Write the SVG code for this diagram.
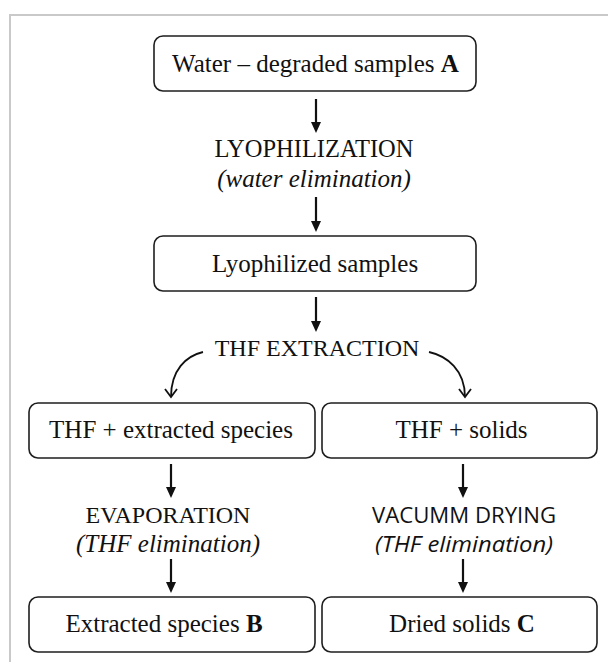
<svg xmlns="http://www.w3.org/2000/svg" width="608" height="662" viewBox="0 0 608 662">
<defs>
<style>
.frame{fill:none;stroke:#c9c9c9;stroke-width:2}
.box{fill:#fff;stroke:#1e1e1e;stroke-width:1.6}
.t{font-family:"Liberation Serif","Times New Roman",serif;font-size:25px;fill:#111;text-anchor:middle}
.cap{font-size:24.5px}
.it{font-style:italic}
.sans{font-family:"Open Sans","Liberation Sans",sans-serif;font-size:21px}
.arr{fill:none;stroke:#111;stroke-width:2.2;marker-end:url(#ah)}
.carr{fill:none;stroke:#111;stroke-width:1.8;marker-end:url(#oh)}
</style>
<marker id="ah" markerUnits="userSpaceOnUse" viewBox="0 0 11 10" markerWidth="11" markerHeight="10" refX="1" refY="5" orient="auto">
<path d="M0,0 L11,5 L0,10 z" fill="#111"/>
</marker>
<marker id="oh" markerUnits="userSpaceOnUse" viewBox="0 0 14 14" markerWidth="14" markerHeight="14" refX="11" refY="7" orient="auto">
<path d="M3,1 L11,7 L3,13" fill="none" stroke="#111" stroke-width="1.8"/>
</marker>
</defs>
<rect width="608" height="662" fill="#fff"/>
<path class="frame" d="M10,662 V15 H608"/>

<g id="connectors">
<path class="arr" d="M316,99 V123"/>
<path class="arr" d="M316,197 V222"/>
<path class="arr" d="M316,297 V322"/>
<path class="carr" d="M203,352 C186,356 171,370 171,397"/>
<path class="carr" d="M429,352 C447,356 465,370 465,397"/>
<path class="arr" d="M171,464 V488"/>
<path class="arr" d="M463,464 V488"/>
<path class="arr" d="M171,559 V583"/>
<path class="arr" d="M463,559 V583"/>
</g>

<g id="nodeA">
<rect class="box" x="154" y="36" width="322" height="55" rx="9"/>
<text class="t" x="315.5" y="72">Water – degraded samples <tspan font-weight="bold">A</tspan></text>
</g>
<g id="lyophilization">
<text class="t cap" x="314" y="157">LYOPHILIZATION</text>
<text class="t it" x="314" y="187">(water elimination)</text>
</g>
<g id="nodeLyo">
<rect class="box" x="154" y="236" width="322" height="55" rx="9"/>
<text class="t" x="315" y="272">Lyophilized samples</text>
</g>
<g id="extraction">
<text class="t" style="font-size:24px" x="317" y="356">THF EXTRACTION</text>
</g>
<g id="nodeTHFext">
<rect class="box" x="29" y="403" width="286" height="55" rx="9"/>
<text class="t" x="171" y="438">THF + extracted species</text>
</g>
<g id="nodeTHFsol">
<rect class="box" x="322" y="403" width="275" height="55" rx="9"/>
<text class="t" x="461.5" y="438">THF + solids</text>
</g>
<g id="evaporation">
<text class="t" style="font-size:24px" x="168" y="523">EVAPORATION</text>
<text class="t it" x="168" y="552">(THF elimination)</text>
</g>
<g id="vacuum">
<text class="t sans" x="464" y="523" textLength="184" lengthAdjust="spacingAndGlyphs">VACUMM DRYING</text>
<text class="t sans it" x="464" y="552" textLength="178" lengthAdjust="spacingAndGlyphs">(THF elimination)</text>
</g>
<g id="nodeB">
<rect class="box" x="29" y="597" width="286" height="55" rx="9"/>
<text class="t" x="164" y="632">Extracted species <tspan font-weight="bold">B</tspan></text>
</g>
<g id="nodeC">
<rect class="box" x="322" y="597" width="275" height="55" rx="9"/>
<text class="t" x="462" y="632">Dried solids <tspan font-weight="bold">C</tspan></text>
</g>
</svg>
